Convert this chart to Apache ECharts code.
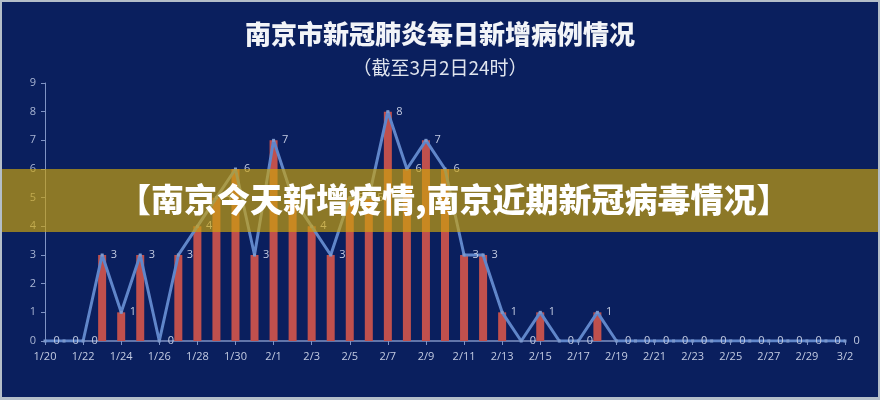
<!DOCTYPE html>
<html>
<head>
<meta charset="utf-8">
<script src="https://cdn.jsdelivr.net/npm/echarts@6/dist/echarts.min.js"></script>
<style>
  html, body { margin: 0; padding: 0; background: #b4bec9; }
  #main { position: absolute; left: 2px; top: 2px; width: 876px; height: 395px; background: #0a1f5e; }
</style>
</head>
<body>
<div id="main"></div>
<script>
var dates = ['1/20','1/21','1/22','1/23','1/24','1/25','1/26','1/27','1/28','1/29','1/30','1/31',
  '2/1','2/2','2/3','2/4','2/5','2/6','2/7','2/8','2/9','2/10','2/11','2/12','2/13','2/14','2/15',
  '2/16','2/17','2/18','2/19','2/20','2/21','2/22','2/23','2/24','2/25','2/26','2/27','2/28','2/29',
  '3/1','3/2'];
var cases = [0,0,0,3,1,3,0,3,4,5,6,3,
  7,5,4,3,5,5,8,6,7,6,3,3,1,0,1,
  0,0,1,0,0,0,0,0,0,0,0,0,0,0,
  0,0];
var yTicks = [0, 9, 1];   // min, max, interval

var myChart = echarts.init(document.getElementById('main'));

option = {
    backgroundColor: '#0a1f5e',
    title: {
        text: '南京市新冠肺炎每日新增病例情况',
        subtext: '（截至3月2日24时）',
        left: 'center',
        top: 14,
        itemGap: 11,
        textStyle: {color: '#f2f4f8', fontSize: 26, fontWeight: 900, fontFamily: 'Noto Sans CJK SC'},
        subtextStyle: {color: '#dfe4ee', fontSize: 19, fontFamily: 'Noto Sans CJK SC'}
    },
    grid: {left: 43, right: 33, top: 81, bottom: 56},
    xAxis: {
        type: 'category',
        data: dates,
        boundaryGap: false,
        axisLine: {lineStyle: {color: '#7f93c4', width: 1.5}},
        axisTick: {interval: 1, length: 4, lineStyle: {color: '#7f93c4'}},
        axisLabel: {interval: 1, color: '#c3cbe2', fontSize: 11, margin: 10, fontFamily: 'Open Sans'}
    },
    yAxis: {
        type: 'value',
        min: yTicks[0],
        max: yTicks[1],
        interval: yTicks[2],
        splitLine: {show: false},
        axisLine: {show: true, lineStyle: {color: '#7f93c4'}},
        axisTick: {show: true, length: 4, lineStyle: {color: '#7f93c4'}},
        axisLabel: {color: '#a9b5d3', fontSize: 11, margin: 9, fontFamily: 'Open Sans'}
    },
    series: [
        {
            name: '新增',
            type: 'bar',
            data: cases,
            barWidth: 8,
            itemStyle: {color: '#c0504d'}
        },
        {
            name: '新增',
            type: 'line',
            data: cases,
            symbol: 'rect',
            symbolSize: 3,
            itemStyle: {color: '#7c98cc'},
            lineStyle: {color: '#6086ca', width: 3},
            label: {
                show: true,
                position: 'right',
                distance: 7,
                color: '#c3cbe2',
                fontSize: 11,
                fontFamily: 'Open Sans'
            },
            z: 3
        }
    ],
    graphic: [
        {
            type: 'rect',
            left: -2,
            top: 167,
            shape: {width: 880, height: 63},
            style: {fill: 'rgba(204,164,12,0.67)'},
            z: 100
        },
        {
            type: 'text',
            left: 116,
            top: 181,
            style: {
                text: '【南京今天新增疫情,南京近期新冠病毒情况】',
                fill: '#ffffff',
                fontSize: 33,
                fontWeight: 900,
                fontFamily: 'Noto Sans CJK SC'
            },
            z: 101
        }
    ]
};

myChart.setOption(option);
onresize = myChart.resize;
</script>
</body>
</html>
